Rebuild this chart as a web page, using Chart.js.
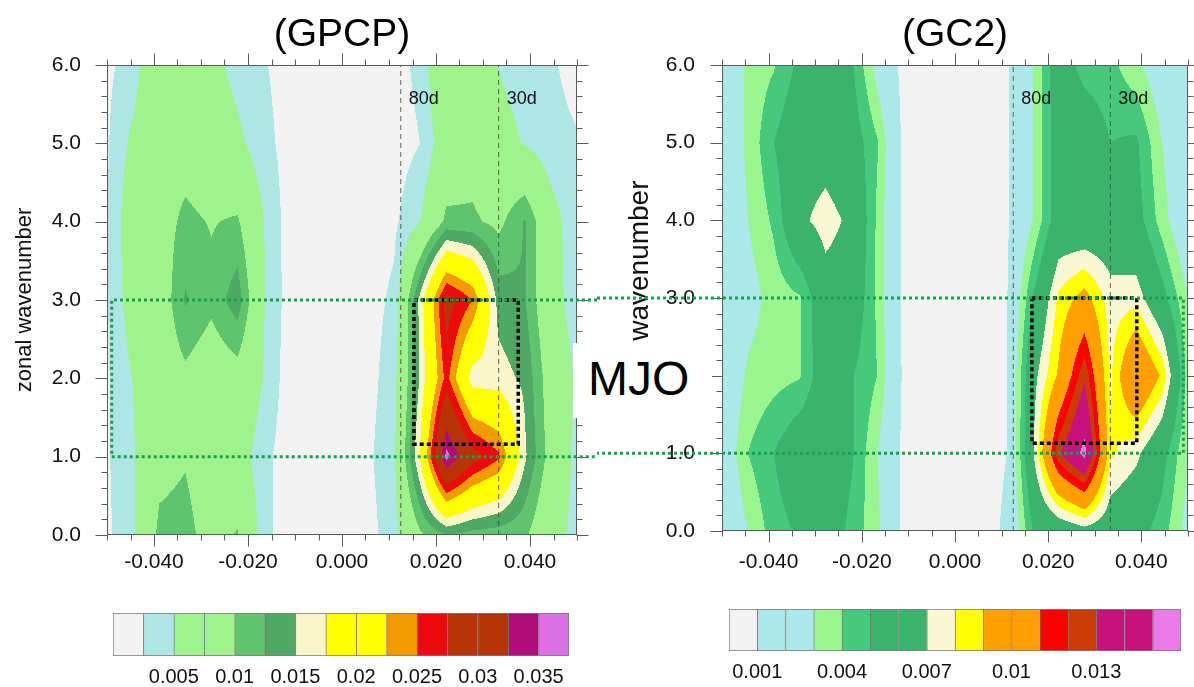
<!DOCTYPE html>
<html>
<head>
<meta charset="utf-8">
<script src="https://cdn.jsdelivr.net/npm/chart.js@4.4.1/dist/chart.umd.min.js"></script>
<style>
html,body{margin:0;padding:0;background:#fff;width:1194px;height:687px;overflow:hidden;position:relative;}
.box{position:absolute;}
#mjo{position:absolute;left:573px;top:343px;width:139px;height:75px;background:#fff;z-index:5;
  font:48px "Liberation Sans",Arial,sans-serif;line-height:72px;padding-left:15px;box-sizing:border-box;color:#000;}
</style>
</head>
<body>
<div class="box" style="left:0;top:0;width:597px;height:600px"><canvas id="cL" width="597" height="600"></canvas></div>
<div class="box" style="left:597px;top:0;width:597px;height:600px"><canvas id="cR" width="597" height="600"></canvas></div>
<div class="box" style="left:100px;top:600px;width:480px;height:87px"><canvas id="bL" width="480" height="87"></canvas></div>
<div class="box" style="left:716px;top:596px;width:478px;height:91px"><canvas id="bR" width="478" height="91"></canvas></div>
<div id="mjo">MJO</div>
<script>
// ---------------- data ----------------
const freqs = [-0.05,-0.04444,-0.03889,-0.03333,-0.02778,-0.02222,-0.01667,-0.01111,-0.00556,0,
               0.00556,0.01111,0.01667,0.02222,0.02778,0.03333,0.03889,0.04444,0.05];
const wavenumbers = [0,1,2,3,4,5,6];

// GPCP power, one row per wavenumber (0..6), one column per frequency
const gpcpPower = [
 [0.0020,0.0045,0.0108,0.0112,0.0083,0.0103,0.0034,0.0008,0.0008,0.0010,0.0015,0.0040,0.0095,0.0125,0.0115,0.0110,0.0105,0.0065,0.0040],
 [0.0022,0.0047,0.0088,0.0097,0.0075,0.0067,0.0033,0.0010,0.0008,0.0010,0.0020,0.0045,0.0180,0.0360,0.0290,0.0255,0.0155,0.0085,0.0040],
 [0.0022,0.0051,0.0075,0.0092,0.0075,0.0085,0.0049,0.0010,0.0008,0.0010,0.0015,0.0040,0.0155,0.0260,0.0160,0.0160,0.0145,0.0080,0.0045],
 [0.0023,0.0068,0.0076,0.0128,0.0108,0.0140,0.0052,0.0013,0.0010,0.0010,0.0015,0.0030,0.0160,0.0290,0.0250,0.0140,0.0127,0.0065,0.0035],
 [0.0024,0.0074,0.0085,0.0107,0.0098,0.0104,0.0051,0.0012,0.0010,0.0010,0.0012,0.0020,0.0050,0.0107,0.0105,0.0092,0.0127,0.0065,0.0030],
 [0.0022,0.0058,0.0085,0.0085,0.0075,0.0057,0.0033,0.0015,0.0010,0.0010,0.0010,0.0012,0.0025,0.0072,0.0085,0.0062,0.0048,0.0032,0.0027],
 [0.0020,0.0035,0.0095,0.0085,0.0060,0.0040,0.0027,0.0015,0.0012,0.0012,0.0010,0.0015,0.0032,0.0092,0.0075,0.0049,0.0038,0.0028,0.0017]
];
// GC2 power
const gc2Power = [
 [0.0015,0.0030,0.0045,0.0052,0.0062,0.0046,0.0033,0.0007,0.0005,0.0005,0.0005,0.0012,0.0050,0.0058,0.0065,0.0060,0.0055,0.0045,0.0025],
 [0.0018,0.0040,0.0050,0.0062,0.0065,0.0052,0.0030,0.0007,0.0005,0.0005,0.0005,0.0010,0.0068,0.0128,0.0155,0.0082,0.0073,0.0055,0.0030],
 [0.0017,0.0032,0.0036,0.0039,0.0060,0.0051,0.0040,0.0008,0.0005,0.0005,0.0005,0.0010,0.0065,0.0092,0.0128,0.0078,0.0111,0.0088,0.0035],
 [0.0015,0.0025,0.0034,0.0039,0.0063,0.0062,0.0038,0.0007,0.0005,0.0005,0.0005,0.0009,0.0050,0.0082,0.0095,0.0075,0.0076,0.0055,0.0030],
 [0.0018,0.0030,0.0042,0.0067,0.0075,0.0067,0.0038,0.0007,0.0005,0.0005,0.0005,0.0008,0.0030,0.0058,0.0055,0.0058,0.0056,0.0035,0.0015],
 [0.0020,0.0032,0.0050,0.0062,0.0063,0.0058,0.0041,0.0007,0.0005,0.0005,0.0005,0.0008,0.0030,0.0058,0.0062,0.0050,0.0052,0.0030,0.0015],
 [0.0015,0.0033,0.0039,0.0053,0.0060,0.0052,0.0025,0.0006,0.0005,0.0005,0.0005,0.0008,0.0029,0.0060,0.0045,0.0043,0.0033,0.0020,0.0015]
];

const gpcpLevels = [0.0025,0.005,0.0075,0.01,0.0125,0.015,0.0175,0.02,0.0225,0.025,0.0275,0.03,0.0325,0.035];
const gpcpColors = ['#f2f2f2','#aee6e6','#a0f28a','#a0f28a','#5fc46e','#4fa863','#f8f6c9','#ffff00','#ffff00',
                    '#f29a00','#ee0a0a','#b83306','#b83306','#b00c7a','#dc70e8'];
const gc2Levels = [0.001,0.002,0.003,0.004,0.005,0.006,0.007,0.008,0.009,0.01,0.011,0.012,0.013,0.014,0.015];
const gc2Colors = ['#f2f2f2','#ace8ea','#ace8ea','#98f590','#46c97c','#3cb36d','#3cb36d','#faf8d2','#ffff00',
                   '#ffa000','#ffa000','#ff0000','#cc3a06','#c8137c','#c8137c','#e87be8'];

const gpcpBarLabels = ['0.005','0.01','0.015','0.02','0.025','0.03','0.035'];
const gpcpBarLabelAt = [2,4,6,8,10,12,14];
const gc2BarLabels = ['0.001','0.004','0.007','0.01','0.013'];
const gc2BarLabelAt = [1,4,7,10,13];

const xTickValues = [-0.04,-0.02,0,0.02,0.04];
const xTickLabels = ['-0.040','-0.020','0.000','0.020','0.040'];
const yTickValues = [0,1,2,3,4,5,6];
const yTickLabels = ['0.0','1.0','2.0','3.0','4.0','5.0','6.0'];

const periods = [80,30];
const periodLabels = ['80d','30d'];
const mjoBoxGpcpX = [0.0153,0.0375], mjoBoxGpcpY = [1.16,3.0];
const mjoBoxGc2X = [0.0165,0.039],  mjoBoxGc2Y = [1.13,3.0];
const mjoBandX = [-0.049,0.049], mjoBandY = [1.0,3.0];

// ---------------- helpers ----------------
const FONT = "'Liberation Sans', Arial, Helvetica, sans-serif";
function seg(arr, v){
  let i = 0;
  while (i < arr.length - 2 && v > arr[i+1]) i++;
  let t = (v - arr[i]) / (arr[i+1] - arr[i]);
  return [i, Math.max(0, Math.min(1, t))];
}
function bilinear(grid, f, k){
  const [j, s] = seg(freqs, f);
  const [i, t] = seg(wavenumbers, k);
  const a = grid[i][j], b = grid[i][j+1], c = grid[i+1][j], d = grid[i+1][j+1];
  return a*(1-s)*(1-t) + b*s*(1-t) + c*(1-s)*t + d*s*t;
}
function levelColor(v, levels, colors){
  let n = 0;
  while (n < levels.length && v >= levels[n]) n++;
  return colors[n];
}

function contourPlugin(grid, levels, colors){
  return {
    id: 'contourFill',
    beforeDatasetsDraw(chart){
      const {ctx, chartArea: a, scales: {x, y}} = chart;
      ctx.save();
      const x0 = Math.floor(a.left), x1 = Math.ceil(a.right);
      for (let py = Math.floor(a.top); py < Math.ceil(a.bottom); py++) {
        const k = y.getValueForPixel(py + 0.5);
        let runX = x0, runC = null;
        for (let px = x0; px <= x1; px++) {
          let c = null;
          if (px < x1) c = levelColor(bilinear(grid, x.getValueForPixel(px + 0.5), k), levels, colors);
          if (c !== runC) {
            if (runC) { ctx.fillStyle = runC; ctx.fillRect(runX, py, px - runX, 1); }
            runC = c; runX = px;
          }
        }
      }
      ctx.restore();
    }
  };
}

function framePlugin(side){
  return {
    id: 'frameTicks',
    afterDatasetsDraw(chart){
      const {ctx, chartArea: a, scales: {x, y}} = chart;
      ctx.save();
      ctx.strokeStyle = '#5a5a5a';
      ctx.lineWidth = 1;
      const L = Math.round(a.left) + 0.5, R = Math.round(a.right) - 0.5;
      const T = Math.round(a.top) + 0.5, B = Math.round(a.bottom) - 0.5;
      ctx.beginPath();
      ctx.rect(L, T, R - L, B - T);
      for (let v = x.min; v <= x.max + 1e-9; v += 0.005) {
        const px = Math.round(x.getPixelForValue(v)) + 0.5;
        const major = xTickValues.some(t => Math.abs(t - v) < 1e-6);
        const len = major ? 12 : 6;
        ctx.moveTo(px, B); ctx.lineTo(px, B + len);
        ctx.moveTo(px, T); ctx.lineTo(px, T - len);
      }
      for (let v = y.min; v <= y.max + 1e-9; v += 0.2) {
        const py = Math.round(y.getPixelForValue(v)) + 0.5;
        const major = yTickValues.some(t => Math.abs(t - v) < 1e-6);
        const len = major ? 12 : 6;
        ctx.moveTo(L, py); ctx.lineTo(L - len, py);
        ctx.moveTo(R, py); ctx.lineTo(R + len, py);
      }
      ctx.stroke();

      // period labels
      ctx.fillStyle = '#111';
      ctx.font = '18px ' + FONT;
      ctx.textBaseline = 'middle';
      ctx.textAlign = 'left';
      periods.forEach((p, i) => {
        ctx.fillText(periodLabels[i], x.getPixelForValue(1 / p) + 8, a.top + 34);
      });

      // MJO wavenumber band (continues across both panels)
      const yTop = y.getPixelForValue(mjoBandY[1]);
      const yBot = y.getPixelForValue(mjoBandY[0]);
      ctx.strokeStyle = '#16a04f';
      ctx.lineWidth = 3;
      ctx.setLineDash([3, 3]);
      ctx.beginPath();
      if (side === 'left') {
        const xe = x.getPixelForValue(mjoBandX[0]);
        ctx.moveTo(chart.width, yTop); ctx.lineTo(xe, yTop); ctx.lineTo(xe, yBot); ctx.lineTo(chart.width, yBot);
      } else {
        const xe = x.getPixelForValue(mjoBandX[1]);
        ctx.moveTo(0, yTop); ctx.lineTo(xe, yTop); ctx.lineTo(xe, yBot); ctx.lineTo(0, yBot);
      }
      ctx.stroke();
      ctx.restore();
    }
  };
}

function makePanel(id, title, grid, levels, colors, boxX, boxY, opt){
  const datasets = periods.map(p => ({
    data: [{x: 1/p, y: wavenumbers[0]}, {x: 1/p, y: wavenumbers[wavenumbers.length-1]}],
    showLine: true, pointRadius: 0, borderColor: 'rgba(70,70,70,0.85)', borderWidth: 1, borderDash: [5, 4]
  }));
  datasets.push({
    data: [{x: boxX[0], y: boxY[1]}, {x: boxX[1], y: boxY[1]}, {x: boxX[1], y: boxY[0]},
           {x: boxX[0], y: boxY[0]}, {x: boxX[0], y: boxY[1]}],
    showLine: true, pointRadius: 0, borderColor: '#000', borderWidth: 3.5, borderDash: [4, 3],
    borderCapStyle: 'butt', borderJoinStyle: 'miter', tension: 0
  });
  return new Chart(document.getElementById(id), {
    type: 'scatter',
    data: {datasets},
    options: {
      responsive: false, animation: false, events: [],
      layout: {padding: {left: 0, right: opt.padRight, top: 0, bottom: 0}},
      plugins: {
        legend: {display: false}, tooltip: {enabled: false},
        title: {display: true, text: title, fullSize: false, color: '#000',
                font: {size: 39, family: FONT, weight: 'normal'}, padding: {top: 12, bottom: 6.2}}
      },
      scales: {
        x: {
          type: 'linear', min: -0.05, max: 0.05,
          grid: {display: false, drawTicks: false}, border: {display: false},
          afterBuildTicks: s => { s.ticks = xTickValues.map(v => ({value: v})); },
          ticks: {autoSkip: false, maxRotation: 0, padding: opt.xPad, color: '#111',
                  font: {size: 21, family: FONT},
                  callback: v => { const i = xTickValues.findIndex(t => Math.abs(t - v) < 1e-9); return i >= 0 ? xTickLabels[i] : ''; }},
          afterFit: s => { s.height = opt.xHeight; }
        },
        y: {
          type: 'linear', min: 0, max: 6,
          grid: {display: false, drawTicks: false}, border: {display: false},
          afterBuildTicks: s => { s.ticks = yTickValues.map(v => ({value: v})); },
          ticks: {autoSkip: false, padding: opt.yPad, color: '#111', font: {size: 21, family: FONT},
                  callback: v => { const i = yTickValues.indexOf(v); return i >= 0 ? yTickLabels[i] : ''; }},
          title: {display: true, text: 'zonal wavenumber', color: '#111',
                  font: {size: opt.yTitleSize, family: FONT}, padding: {top: opt.yTitlePad, bottom: 0}},
          afterFit: s => { s.width = opt.yWidth; }
        }
      }
    },
    plugins: [contourPlugin(grid, levels, colors), framePlugin(opt.side)]
  });
}

function makeColorbar(id, colors, labelAt, labels, padL, padR, axisH){
  return new Chart(document.getElementById(id), {
    type: 'bar',
    data: {datasets: [{
      data: colors.map((c, i) => ({x: i + 0.5, y: 1})),
      backgroundColor: colors,
      borderColor: '#7a7a7a',
      borderWidth: c => ({left: 1, top: 1, bottom: 1, right: c.dataIndex === colors.length - 1 ? 1 : 0}),
      borderSkipped: false, barPercentage: 1, categoryPercentage: 1
    }]},
    options: {
      responsive: false, animation: false, events: [],
      layout: {padding: {left: padL, right: padR, top: 13, bottom: 0}},
      plugins: {legend: {display: false}, tooltip: {enabled: false}},
      scales: {
        x: {type: 'linear', min: 0, max: colors.length, offset: false,
            grid: {display: false, drawTicks: false}, border: {display: false},
            afterBuildTicks: s => { s.ticks = labelAt.map(v => ({value: v})); },
            ticks: {autoSkip: false, maxRotation: 0, padding: 9, color: '#111', font: {size: 20, family: FONT},
                    callback: v => { const i = labelAt.indexOf(v); return i >= 0 ? labels[i] : ''; }},
            afterFit: s => { s.height = axisH; }},
        y: {display: false, min: 0, max: 1}
      }
    }
  });
}

makePanel('cL', '(GPCP)', gpcpPower, gpcpLevels, gpcpColors, mjoBoxGpcpX, mjoBoxGpcpY,
  {side: 'left', padRight: 20, yWidth: 107, xHeight: 65, xPad: 15, yPad: 26, yTitleSize: 22, yTitlePad: 12});
makePanel('cR', '(GC2)', gc2Power, gc2Levels, gc2Colors, mjoBoxGc2X, mjoBoxGc2Y,
  {side: 'right', padRight: 6, yWidth: 125, xHeight: 69, xPad: 19, yPad: 27, yTitleSize: 28, yTitlePad: 26});
makeColorbar('bL', gpcpColors, gpcpBarLabelAt, gpcpBarLabels, 13, 11, 31);
makeColorbar('bR', gc2Colors, gc2BarLabelAt, gc2BarLabels, 13, 13, 36);
</script>
</body>
</html>
